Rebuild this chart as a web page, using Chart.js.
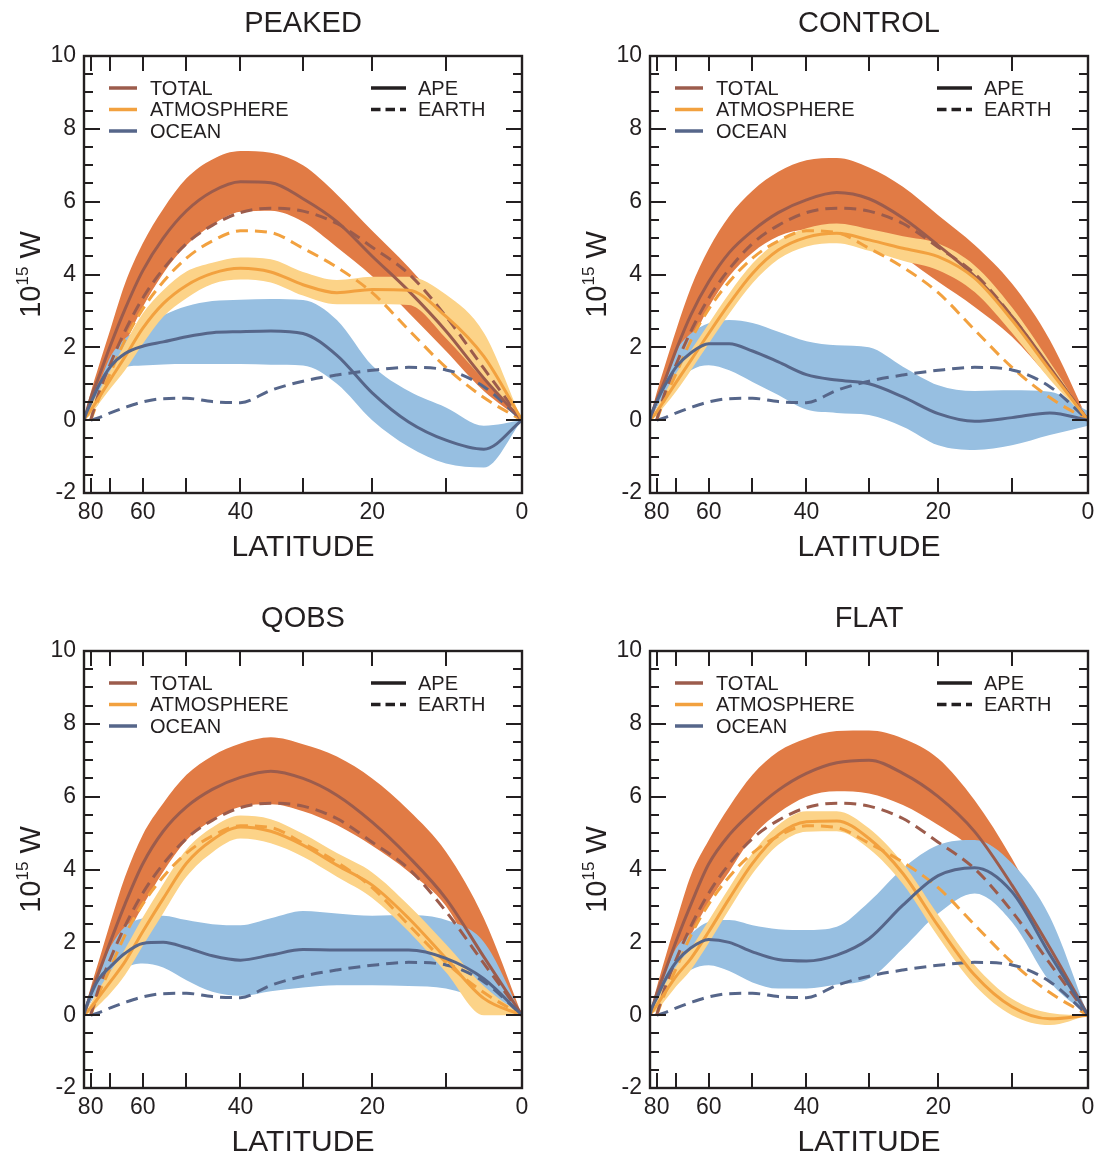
<!DOCTYPE html>
<html>
<head>
<meta charset="utf-8">
<title>Meridional heat transport</title>
<script src="https://cdn.jsdelivr.net/npm/chart.js@4.4.1/dist/chart.umd.min.js"></script>
<style>
  html, body { margin: 0; padding: 0; background: #fff; }
  body { width: 1101px; height: 1156px; position: relative; overflow: hidden; }
  canvas { position: absolute; }
</style>
</head>
<body>
<canvas id="peaked" width="550" height="580" style="left:0px;top:0px"></canvas>
<canvas id="control" width="535" height="580" style="left:566px;top:0px"></canvas>
<canvas id="qobs" width="550" height="561" style="left:0px;top:595px"></canvas>
<canvas id="flat" width="535" height="561" style="left:566px;top:595px"></canvas>
<script>
const DEG = Math.PI / 180;

// latitude grid (degrees) shared by every curve
const lats = [90, 85, 80, 75, 70, 65, 60, 55, 50, 45, 40, 35, 30, 25, 20, 15, 10, 5, 0];
const tickLats = [80, 70, 60, 50, 40, 30, 20, 10, 0];
const labelLats = [80, 60, 40, 20, 0];
const yMin = -2, yMax = 10, yStep = 2, yMinorStep = 0.5;

// observed (EARTH) transports, same in every panel
const earthTotal = [null, null, 0, 0.75, 1.55, 2.45, 3.35, 4.15, 4.85, 5.35, 5.7, 5.82, 5.74, 5.4, 4.75, 4.02, 2.85, 1.42, 0];
const earthAtmos = [null, null, 0, 0.6, 1.3, 2.2, 3.05, 3.8, 4.45, 4.92, 5.2, 5.15, 4.72, 4.2, 3.5, 2.48, 1.45, 0.62, 0];
const earthOcean = [null, null, 0, 0.07, 0.2, 0.35, 0.5, 0.59, 0.6, 0.51, 0.48, 0.82, 1.07, 1.24, 1.37, 1.45, 1.38, 0.92, 0];

// PEAKED
const pkTotal   = [0, 0.15, 0.6, 1.2, 2.05, 3.05, 4.1, 5.0, 5.75, 6.28, 6.55, 6.52, 6.08, 5.45, 4.5, 3.55, 2.45, 1.15, 0];
const pkTotalHi = [0, 0.22, 0.75, 1.5, 2.5, 3.75, 4.85, 5.8, 6.64, 7.16, 7.39, 7.34, 7.0, 6.2, 5.2, 4.2, 3.0, 1.6, 0];
const pkTotalLo = [0, 0.08, 0.35, 0.73, 1.28, 2.1, 3.1, 4.03, 4.8, 5.36, 5.72, 5.75, 5.45, 4.75, 3.95, 2.95, 1.9, 0.8, 0];
const pkAtmos   = [0, 0.08, 0.27, 0.62, 1.12, 1.74, 2.52, 3.2, 3.7, 4.03, 4.17, 4.07, 3.72, 3.5, 3.59, 3.57, 2.85, 1.75, 0];
const pkAtmosHi = [0, 0.12, 0.41, 0.8, 1.37, 2.1, 2.93, 3.57, 4.08, 4.32, 4.47, 4.42, 4.07, 3.85, 3.94, 3.94, 3.45, 2.4, 0];
const pkAtmosLo = [0, 0.04, 0.15, 0.46, 0.87, 1.37, 2.09, 2.84, 3.35, 3.74, 3.86, 3.78, 3.42, 3.18, 3.18, 3.16, 2.25, 1.1, 0];
const pkOcean   = [0, 0.15, 0.46, 0.96, 1.47, 1.83, 2.03, 2.15, 2.29, 2.4, 2.43, 2.45, 2.38, 1.78, 0.75, -0.05, -0.55, -0.8, 0];
const pkOceanHi = [0, 0.2, 0.55, 1.0, 1.74, 2.24, 2.56, 2.88, 3.13, 3.27, 3.31, 3.33, 3.3, 2.75, 1.5, 0.8, 0.35, -0.15, 0];
const pkOceanLo = [0, 0.08, 0.23, 0.46, 1.1, 1.45, 1.5, 1.53, 1.54, 1.54, 1.54, 1.52, 1.5, 1.0, 0.0, -0.73, -1.19, -1.3, 0];

// CONTROL
const ctTotal   = [0, 0.15, 0.55, 1.1, 1.95, 2.9, 3.8, 4.6, 5.2, 5.7, 6.05, 6.25, 6.08, 5.55, 4.8, 3.95, 2.85, 1.45, 0];
const ctTotalHi = [0, 0.22, 0.75, 1.5, 2.5, 3.65, 4.7, 5.6, 6.3, 6.82, 7.14, 7.2, 6.94, 6.41, 5.63, 4.81, 3.75, 2.2, 0];
const ctTotalLo = [0, 0.08, 0.35, 0.73, 1.3, 2.1, 3.1, 3.95, 4.6, 5.05, 5.24, 5.27, 5.08, 4.49, 3.8, 3.11, 2.29, 1.15, 0];
const ctAtmos   = [0, 0.05, 0.23, 0.57, 1.05, 1.65, 2.38, 3.2, 4.03, 4.67, 5.02, 5.13, 4.95, 4.72, 4.49, 3.9, 2.75, 1.37, 0];
const ctAtmosHi = [0, 0.08, 0.33, 0.75, 1.3, 1.92, 2.65, 3.48, 4.3, 4.92, 5.27, 5.4, 5.25, 5.05, 4.85, 4.25, 3.1, 1.6, 0];
const ctAtmosLo = [0, 0.02, 0.13, 0.4, 0.8, 1.38, 2.1, 2.92, 3.76, 4.42, 4.77, 4.86, 4.65, 4.38, 4.12, 3.52, 2.4, 1.12, 0];
const ctOcean   = [0, 0.18, 0.5, 0.96, 1.47, 1.85, 2.1, 2.1, 1.9, 1.6, 1.25, 1.1, 1.0, 0.64, 0.18, -0.03, 0.07, 0.2, 0];
const ctOceanHi = [0, 0.22, 0.6, 1.15, 1.92, 2.38, 2.66, 2.75, 2.67, 2.43, 2.17, 2.06, 2.0, 1.47, 0.96, 0.8, 0.82, 0.78, 0.25];
const ctOceanLo = [0, 0.1, 0.35, 0.7, 0.95, 1.37, 1.51, 1.37, 1.05, 0.69, 0.29, 0.2, 0.14, -0.18, -0.69, -0.82, -0.69, -0.41, -0.15];

// QOBS
const qoTotal   = [0, 0.15, 0.58, 1.18, 2.02, 3.05, 4.15, 5.05, 5.72, 6.2, 6.53, 6.7, 6.5, 6.04, 5.3, 4.35, 3.2, 1.6, 0];
const qoTotalHi = [0, 0.22, 0.75, 1.5, 2.55, 3.8, 4.95, 5.82, 6.6, 7.12, 7.46, 7.63, 7.44, 7.1, 6.5, 5.63, 4.49, 2.66, 0];
const qoTotalLo = [0, 0.08, 0.37, 0.75, 1.35, 2.1, 3.0, 3.94, 4.8, 5.36, 5.72, 5.79, 5.6, 5.22, 4.65, 3.94, 3.0, 1.19, 0];
const qoAtmos   = [0, 0.05, 0.2, 0.5, 0.92, 1.47, 2.29, 3.2, 4.17, 4.81, 5.17, 5.05, 4.67, 4.12, 3.57, 2.66, 1.56, 0.46, 0];
const qoAtmosHi = [0, 0.08, 0.32, 0.72, 1.2, 1.82, 2.68, 3.6, 4.55, 5.15, 5.48, 5.38, 4.98, 4.45, 3.92, 3.02, 1.95, 0.8, 0];
const qoAtmosLo = [0, 0.02, 0.08, 0.28, 0.6, 1.1, 1.9, 2.8, 3.8, 4.47, 4.85, 4.72, 4.35, 3.8, 3.22, 2.3, 1.18, 0.0, 0];
const qoOcean   = [0, 0.18, 0.55, 1.0, 1.33, 1.7, 1.97, 2.0, 1.85, 1.63, 1.51, 1.65, 1.8, 1.79, 1.79, 1.79, 1.56, 1.0, 0];
const qoOceanHi = [0, 0.22, 0.6, 1.2, 1.88, 2.43, 2.66, 2.73, 2.61, 2.5, 2.47, 2.66, 2.86, 2.79, 2.73, 2.75, 2.61, 2.01, 0];
const qoOceanLo = [0, 0.1, 0.35, 0.65, 0.84, 1.28, 1.42, 1.31, 0.96, 0.64, 0.53, 0.66, 0.76, 0.82, 0.82, 0.8, 0.73, 0.41, 0];

// FLAT
const flTotal   = [0, 0.15, 0.58, 1.2, 2.05, 3.05, 4.15, 4.95, 5.59, 6.18, 6.64, 6.93, 7.0, 6.64, 6.0, 5.04, 3.57, 1.85, 0];
const flTotalHi = [0, 0.22, 0.75, 1.55, 2.6, 3.85, 4.8, 5.72, 6.6, 7.24, 7.6, 7.8, 7.82, 7.6, 7.05, 5.9, 4.3, 2.3, 0];
const flTotalLo = [0, 0.08, 0.37, 0.8, 1.4, 2.2, 3.1, 3.94, 4.9, 5.55, 6.0, 6.15, 6.09, 5.77, 5.22, 4.49, 3.02, 1.28, 0];
const flAtmos   = [0, 0.08, 0.27, 0.62, 1.08, 1.56, 2.29, 3.2, 4.17, 4.95, 5.31, 5.33, 4.85, 3.89, 2.45, 1.1, 0.23, -0.1, 0];
const flAtmosHi = [0, 0.12, 0.42, 0.85, 1.35, 1.85, 2.6, 3.5, 4.45, 5.22, 5.6, 5.6, 5.13, 4.17, 2.75, 1.38, 0.45, 0.06, 0];
const flAtmosLo = [0, 0.04, 0.12, 0.4, 0.8, 1.25, 1.98, 2.9, 3.88, 4.68, 5.04, 5.05, 4.57, 3.6, 2.15, 0.82, 0.0, -0.27, 0];
const flOcean   = [0, 0.18, 0.46, 0.96, 1.47, 1.85, 2.08, 2.0, 1.74, 1.53, 1.49, 1.65, 2.1, 3.02, 3.83, 4.05, 3.39, 1.67, 0];
const flOceanHi = [0, 0.22, 0.6, 1.15, 1.85, 2.24, 2.56, 2.61, 2.47, 2.36, 2.34, 2.43, 3.11, 4.03, 4.67, 4.81, 4.17, 2.7, 0];
const flOceanLo = [0, 0.1, 0.35, 0.7, 0.96, 1.25, 1.37, 1.21, 0.9, 0.73, 0.73, 0.84, 1.0, 1.83, 2.79, 3.34, 2.56, 0.92, 0];

const componentNames = ['TOTAL', 'ATMOSPHERE', 'OCEAN'];
const sourceNames = ['APE', 'EARTH'];

const INK = '#231f20';
const FONT = '"Liberation Sans", Arial, Helvetica, sans-serif';
const lineColor = { total: '#9c5c4c', atmos: '#f2a13f', ocean: '#56668a' };
const bandColor = { total: '#e17b45', atmos: '#fcd388', ocean: '#97bfe1' };

const panels = [
  { id: 'peaked', title: 'PEAKED',
    total: [pkTotal, pkTotalHi, pkTotalLo], atmos: [pkAtmos, pkAtmosHi, pkAtmosLo], ocean: [pkOcean, pkOceanHi, pkOceanLo] },
  { id: 'control', title: 'CONTROL',
    total: [ctTotal, ctTotalHi, ctTotalLo], atmos: [ctAtmos, ctAtmosHi, ctAtmosLo], ocean: [ctOcean, ctOceanHi, ctOceanLo] },
  { id: 'qobs', title: 'QOBS',
    total: [qoTotal, qoTotalHi, qoTotalLo], atmos: [qoAtmos, qoAtmosHi, qoAtmosLo], ocean: [qoOcean, qoOceanHi, qoOceanLo] },
  { id: 'flat', title: 'FLAT',
    total: [flTotal, flTotalHi, flTotalLo], atmos: [flAtmos, flAtmosHi, flAtmosLo], ocean: [flOcean, flOceanHi, flOceanLo] }
];

// x axis is sin(latitude)
function series(vals) {
  return lats.map((lat, i) => ({ x: Math.sin(lat * DEG), y: vals[i] }));
}

function band(hi, lo, color, order) {
  return [
    { data: series(hi), borderWidth: 0, backgroundColor: color, fill: '+1', order },
    { data: series(lo), borderWidth: 0, backgroundColor: color, fill: false, order }
  ];
}

function curve(vals, color, dashed, order) {
  return {
    data: series(vals), borderColor: color, borderWidth: 3, fill: false, order,
    borderDash: dashed ? [12, 7] : [], spanGaps: false
  };
}

// frame, inward ticks, titles and legend
const decor = {
  id: 'decor',
  afterDraw(chart, args, opts) {
    const { ctx, chartArea: a } = chart;
    const x = chart.scales.x, y = chart.scales.y;
    ctx.save();
    ctx.strokeStyle = INK;
    ctx.lineWidth = 2;
    ctx.beginPath();
    tickLats.forEach(lat => {
      const px = Math.round(x.getPixelForValue(Math.sin(lat * DEG)));
      ctx.moveTo(px, a.bottom); ctx.lineTo(px, a.bottom - 15);
      ctx.moveTo(px, a.top); ctx.lineTo(px, a.top + 15);
    });
    for (let v = yMin; v <= yMax; v += yMinorStep) {
      const py = Math.round(y.getPixelForValue(v));
      const len = v % yStep === 0 ? 16 : 9;
      ctx.moveTo(a.left, py); ctx.lineTo(a.left + len, py);
      ctx.moveTo(a.right, py); ctx.lineTo(a.right - len, py);
    }
    ctx.stroke();
    ctx.lineWidth = 2.4;
    ctx.strokeRect(a.left, a.top, a.right - a.left, a.bottom - a.top);

    const cx = (a.left + a.right) / 2;
    ctx.fillStyle = INK;
    ctx.textAlign = 'center';
    ctx.textBaseline = 'middle';
    ctx.font = '29px ' + FONT;
    ctx.fillText(opts.title, cx, a.top - 32);
    ctx.font = '30px ' + FONT;
    ctx.fillText('LATITUDE', cx, a.bottom + 55);

    // 10^15 W, rotated
    ctx.save();
    ctx.translate(a.left - 44, (a.top + a.bottom) / 2);
    ctx.rotate(-Math.PI / 2);
    ctx.textAlign = 'left';
    ctx.textBaseline = 'alphabetic';
    ctx.font = '29px ' + FONT;
    const w1 = ctx.measureText('10').width, w3 = ctx.measureText(' W').width;
    ctx.font = '17px ' + FONT;
    const w2 = ctx.measureText('15').width;
    const tx = -(w1 + w2 + w3) / 2;
    ctx.font = '29px ' + FONT;
    ctx.fillText('10', tx, 0);
    ctx.font = '17px ' + FONT;
    ctx.fillText('15', tx + w1, -12);
    ctx.font = '29px ' + FONT;
    ctx.fillText(' W', tx + w1 + w2, 0);
    ctx.restore();

    // legend
    ctx.font = '20px ' + FONT;
    ctx.textAlign = 'left';
    ctx.textBaseline = 'middle';
    const rowY = i => a.top + 32 + i * 21.5;
    const compColors = [lineColor.total, lineColor.atmos, lineColor.ocean];
    componentNames.forEach((name, i) => {
      ctx.strokeStyle = compColors[i];
      ctx.lineWidth = 3.5;
      ctx.setLineDash([]);
      ctx.beginPath();
      ctx.moveTo(a.left + 25, rowY(i)); ctx.lineTo(a.left + 53, rowY(i));
      ctx.stroke();
      ctx.fillStyle = INK;
      ctx.fillText(name, a.left + 66, rowY(i) + 1);
    });
    sourceNames.forEach((name, i) => {
      ctx.strokeStyle = INK;
      ctx.lineWidth = 3.5;
      ctx.setLineDash(i === 0 ? [] : [9.5, 5]);
      ctx.beginPath();
      ctx.moveTo(a.left + 287, rowY(i)); ctx.lineTo(a.left + 322, rowY(i));
      ctx.stroke();
      ctx.setLineDash([]);
      ctx.fillText(name, a.left + 334, rowY(i) + 1);
    });
    ctx.restore();
  }
};

panels.forEach(p => {
  const datasets = [
    ...band(p.total[1], p.total[2], bandColor.total, 6),
    ...band(p.ocean[1], p.ocean[2], bandColor.ocean, 5),
    ...band(p.atmos[1], p.atmos[2], bandColor.atmos, 4),
    curve(earthTotal, lineColor.total, true, 3),
    curve(earthOcean, lineColor.ocean, true, 3),
    curve(earthAtmos, lineColor.atmos, true, 3),
    curve(p.total[0], lineColor.total, false, 2),
    curve(p.ocean[0], lineColor.ocean, false, 1),
    curve(p.atmos[0], lineColor.atmos, false, 1)
  ];
  const canvas = document.getElementById(p.id);
  new Chart(canvas.getContext('2d'), {
    type: 'line',
    data: { datasets },
    options: {
      responsive: false,
      animation: false,
      devicePixelRatio: 1,
      layout: { padding: { left: 0, top: 56, right: canvas.width - 522, bottom: canvas.height - 493 - 60 } },
      elements: {
        point: { radius: 0, hoverRadius: 0 },
        line: { cubicInterpolationMode: 'monotone' }
      },
      scales: {
        x: {
          type: 'linear', min: 0, max: 1, reverse: true,
          grid: { display: false, drawTicks: false },
          border: { display: false },
          afterBuildTicks: s => { s.ticks = labelLats.map(l => ({ value: Math.sin(l * DEG) })); },
          afterFit: s => { s.height = 60; },
          ticks: {
            autoSkip: false, maxRotation: 0, padding: 6, color: INK,
            font: { size: 23, family: FONT },
            callback: v => String(Math.round(Math.asin(v) / DEG))
          }
        },
        y: {
          min: yMin, max: yMax,
          grid: { display: false, drawTicks: false },
          border: { display: false },
          afterFit: s => { s.width = 84; },
          ticks: { stepSize: yStep, padding: 8, color: INK, font: { size: 23, family: FONT } }
        }
      },
      plugins: {
        legend: { display: false },
        tooltip: { enabled: false },
        decor: { title: p.title }
      }
    },
    plugins: [decor]
  });
});
</script>
</body>
</html>
